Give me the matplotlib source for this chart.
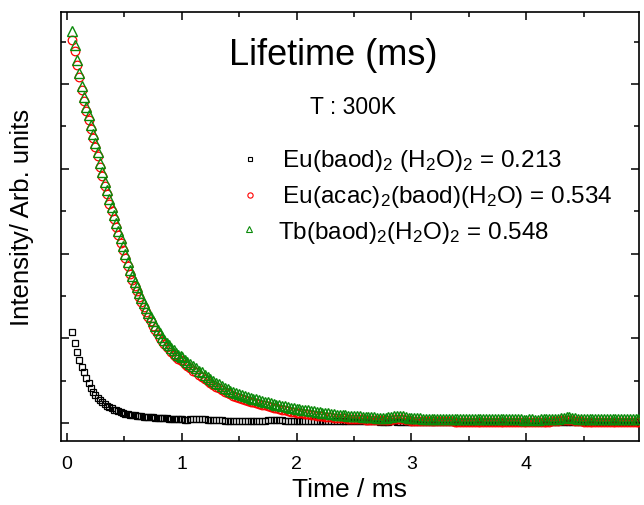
import matplotlib
matplotlib.use("Agg")
import matplotlib.pyplot as plt
from matplotlib.ticker import MultipleLocator

plt.rcParams['font.family'] = ['Liberation Sans', 'DejaVu Sans']
plt.rcParams['mathtext.default'] = 'regular'

# time axis (ms)
time_ms = [0.05, 0.07, 0.09, 0.11, 0.13, 0.15, 0.17, 0.19, 0.21, 0.23, 0.25, 0.27,
           0.29, 0.31, 0.33, 0.35, 0.37, 0.39, 0.41, 0.43, 0.45, 0.47, 0.49,
           0.51, 0.53, 0.55, 0.57, 0.59, 0.61, 0.63, 0.65, 0.67, 0.69, 0.71, 0.73,
           0.75, 0.77, 0.79, 0.81, 0.83, 0.85, 0.87, 0.89, 0.91, 0.93, 0.95, 0.97, 0.99,
           1.000, 1.025, 1.050, 1.075, 1.100, 1.125, 1.150, 1.175,
           1.200, 1.225, 1.250, 1.275, 1.300, 1.325, 1.350, 1.375,
           1.400, 1.425, 1.450, 1.475, 1.500, 1.525, 1.550, 1.575,
           1.600, 1.625, 1.650, 1.675, 1.700, 1.725, 1.750, 1.775,
           1.800, 1.825, 1.850, 1.875, 1.900, 1.925, 1.950, 1.975,
           2.000, 2.025, 2.050, 2.075, 2.100, 2.125, 2.150, 2.175,
           2.200, 2.225, 2.250, 2.275, 2.300, 2.325, 2.350, 2.375,
           2.400, 2.425, 2.450, 2.475, 2.500, 2.525, 2.550, 2.575,
           2.600, 2.625, 2.650, 2.675, 2.700, 2.725, 2.750, 2.775,
           2.800, 2.825, 2.850, 2.875, 2.900, 2.925, 2.950, 2.975,
           3.000, 3.025, 3.050, 3.075, 3.100, 3.125, 3.150, 3.175,
           3.200, 3.225, 3.250, 3.275, 3.300, 3.325, 3.350, 3.375,
           3.400, 3.425, 3.450, 3.475, 3.500, 3.525, 3.550, 3.575,
           3.600, 3.625, 3.650, 3.675, 3.700, 3.725, 3.750, 3.775,
           3.800, 3.825, 3.850, 3.875, 3.900, 3.925, 3.950, 3.975,
           4.000, 4.025, 4.050, 4.075, 4.100, 4.125, 4.150, 4.175,
           4.200, 4.225, 4.250, 4.275, 4.300, 4.325, 4.350, 4.375,
           4.400, 4.425, 4.450, 4.475, 4.500, 4.525, 4.550, 4.575,
           4.600, 4.625, 4.650, 4.675, 4.700, 4.725, 4.750, 4.775,
           4.800, 4.825, 4.850, 4.875, 4.900, 4.925, 4.950, 4.975]

eu_baod = [1.07, 0.95, 0.84, 0.74, 0.66, 0.60, 0.535, 0.47, 0.42, 0.37, 0.335, 0.30,
           0.27, 0.245, 0.225, 0.205, 0.19, 0.175, 0.16, 0.15, 0.14, 0.13, 0.12,
           0.113, 0.107, 0.100, 0.096, 0.092, 0.088, 0.084, 0.081, 0.078, 0.075, 0.072, 0.070,
           0.068, 0.066, 0.064, 0.062, 0.060, 0.058, 0.056, 0.054, 0.052, 0.050, 0.048, 0.046, 0.045,
           0.044, 0.043, 0.043, 0.045, 0.048, 0.050, 0.050, 0.048,
           0.046, 0.043, 0.040, 0.038, 0.036, 0.034, 0.033, 0.031,
           0.030, 0.029, 0.028, 0.027, 0.026, 0.026, 0.025, 0.025,
           0.025, 0.025, 0.025, 0.026, 0.028, 0.031, 0.035, 0.038,
           0.042, 0.043, 0.040, 0.035, 0.030, 0.027, 0.026, 0.025,
           0.025, 0.025, 0.024, 0.024, 0.024, 0.024, 0.024, 0.023,
           0.023, 0.023, 0.023, 0.023, 0.022, 0.022, 0.022, 0.022,
           0.022, 0.022, 0.021, 0.021, 0.021, 0.021, 0.021, 0.021,
           0.021, 0.022, 0.022, 0.021, 0.021, 0.020, 0.020, 0.020,
           0.020, 0.021, 0.021, 0.020, 0.020, 0.020, 0.020, 0.019,
           0.019, 0.019, 0.020, 0.020, 0.019, 0.019, 0.019, 0.019,
           0.019, 0.018, 0.018, 0.019, 0.019, 0.018, 0.018, 0.018,
           0.018, 0.019, 0.018, 0.018, 0.018, 0.018, 0.017, 0.018,
           0.017, 0.017, 0.018, 0.018, 0.017, 0.017, 0.017, 0.018,
           0.017, 0.017, 0.017, 0.017, 0.018, 0.017, 0.017, 0.017,
           0.017, 0.016, 0.016, 0.017, 0.017, 0.016, 0.016, 0.016,
           0.017, 0.016, 0.016, 0.016, 0.017, 0.016, 0.016, 0.016,
           0.016, 0.016, 0.016, 0.017, 0.016, 0.016, 0.016, 0.015,
           0.015, 0.016, 0.016, 0.015, 0.015, 0.016, 0.015, 0.015,
           0.015, 0.015, 0.016, 0.015, 0.015, 0.015, 0.015, 0.015]

eu_acac = [4.52, 4.39, 4.23, 4.08, 3.93, 3.80, 3.68, 3.58, 3.47, 3.36, 3.26, 3.15,
           3.02, 2.91, 2.80, 2.70, 2.59, 2.50, 2.41, 2.31, 2.22, 2.13, 2.04,
           1.95, 1.85, 1.76, 1.69, 1.62, 1.56, 1.49, 1.43, 1.37, 1.31, 1.25, 1.20,
           1.15, 1.10, 1.05, 1.01, 0.97, 0.93, 0.90, 0.87, 0.84, 0.81, 0.78, 0.76, 0.74,
           0.73, 0.70, 0.67, 0.65, 0.62, 0.60, 0.57, 0.55,
           0.52, 0.50, 0.47, 0.45, 0.43, 0.41, 0.39, 0.37,
           0.355, 0.34, 0.325, 0.31, 0.295, 0.285, 0.275, 0.265,
           0.255, 0.245, 0.235, 0.225, 0.215, 0.21, 0.205, 0.195,
           0.185, 0.175, 0.165, 0.16, 0.155, 0.145, 0.135, 0.13,
           0.125, 0.12, 0.115, 0.11, 0.105, 0.10, 0.095, 0.09,
           0.085, 0.08, 0.078, 0.075, 0.07, 0.066, 0.062, 0.06,
           0.058, 0.056, 0.054, 0.052, 0.05, 0.048, 0.046, 0.044,
           0.042, 0.04, 0.038, 0.036, 0.035, 0.034, 0.033, 0.034,
           0.036, 0.04, 0.045, 0.05, 0.05, 0.045, 0.038, 0.033,
           0.03, 0.029, 0.028, 0.027, 0.026, 0.025, 0.024, 0.023,
           0.022, 0.022, 0.022, 0.021, 0.021, 0.021, 0.021, 0.02,
           0.02, 0.02, 0.02, 0.02, 0.019, 0.019, 0.019, 0.019,
           0.019, 0.019, 0.019, 0.018, 0.018, 0.018, 0.018, 0.018,
           0.018, 0.018, 0.017, 0.018, 0.018, 0.017, 0.017, 0.017,
           0.017, 0.017, 0.017, 0.017, 0.017, 0.017, 0.018, 0.018,
           0.019, 0.021, 0.024, 0.028, 0.032, 0.035, 0.037, 0.036,
           0.033, 0.029, 0.025, 0.022, 0.02, 0.019, 0.018, 0.018,
           0.017, 0.017, 0.017, 0.017, 0.016, 0.016, 0.017, 0.017,
           0.016, 0.016, 0.017, 0.017, 0.017, 0.017, 0.017, 0.017]

tb_baod = [4.62, 4.46, 4.28, 4.13, 3.98, 3.85, 3.73, 3.63, 3.52, 3.41, 3.31, 3.20,
           3.07, 2.96, 2.85, 2.75, 2.64, 2.55, 2.46, 2.36, 2.27, 2.18, 2.09,
           2.00, 1.90, 1.81, 1.74, 1.67, 1.61, 1.54, 1.48, 1.42, 1.36, 1.30, 1.25,
           1.20, 1.15, 1.10, 1.06, 1.02, 0.98, 0.95, 0.92, 0.89, 0.86, 0.83, 0.81, 0.79,
           0.78, 0.75, 0.72, 0.70, 0.67, 0.65, 0.62, 0.60,
           0.57, 0.55, 0.52, 0.50, 0.48, 0.46, 0.44, 0.42,
           0.40, 0.385, 0.37, 0.355, 0.34, 0.33, 0.32, 0.31,
           0.30, 0.29, 0.28, 0.27, 0.26, 0.255, 0.25, 0.24,
           0.23, 0.22, 0.21, 0.205, 0.20, 0.19, 0.18, 0.175,
           0.17, 0.165, 0.16, 0.155, 0.15, 0.145, 0.14, 0.135,
           0.13, 0.125, 0.12, 0.115, 0.11, 0.105, 0.10, 0.098,
           0.095, 0.092, 0.09, 0.088, 0.085, 0.083, 0.08, 0.078,
           0.075, 0.073, 0.07, 0.068, 0.067, 0.066, 0.065, 0.066,
           0.07, 0.075, 0.08, 0.085, 0.085, 0.08, 0.07, 0.065,
           0.06, 0.059, 0.058, 0.057, 0.055, 0.054, 0.053, 0.052,
           0.05, 0.05, 0.05, 0.049, 0.048, 0.048, 0.048, 0.047,
           0.047, 0.047, 0.047, 0.046, 0.046, 0.046, 0.046, 0.045,
           0.045, 0.046, 0.046, 0.045, 0.045, 0.044, 0.044, 0.045,
           0.045, 0.044, 0.044, 0.045, 0.045, 0.044, 0.044, 0.043,
           0.043, 0.044, 0.044, 0.043, 0.043, 0.044, 0.044, 0.045,
           0.045, 0.048, 0.05, 0.055, 0.06, 0.065, 0.07, 0.07,
           0.065, 0.06, 0.055, 0.052, 0.05, 0.049, 0.048, 0.048,
           0.047, 0.047, 0.046, 0.046, 0.045, 0.045, 0.046, 0.046,
           0.045, 0.045, 0.046, 0.046, 0.046, 0.047, 0.047, 0.047]

legend_labels = [" Eu(baod)$_2$ (H$_2$O)$_2$ = 0.213",
                 " Eu(acac)$_2$(baod)(H$_2$O) = 0.534",
                 "Tb(baod)$_2$(H$_2$O)$_2$ = 0.548"]
x_ticks = [0, 1, 2, 3, 4]

RED = '#ff0000'
GREEN = '#0a8a0a'

fig = plt.figure(figsize=(6.44, 5.05), dpi=100)
ax = fig.add_axes([61/644, 1 - 441/505, 578/644, 429/505])

ax.plot(time_ms, eu_baod, linestyle='none', marker='s', markersize=5.0,
        markerfacecolor='none', markeredgecolor='black', markeredgewidth=0.9, zorder=3)
ax.plot(time_ms, eu_acac, linestyle='none', marker='o', markersize=6.2,
        markerfacecolor='none', markeredgecolor=RED, markeredgewidth=0.9, zorder=4)
ax.plot(time_ms, tb_baod, linestyle='none', marker='^', markersize=7.0,
        markerfacecolor='none', markeredgecolor=GREEN, markeredgewidth=1.0, zorder=5)

ax.set_xlim(-0.05, 4.98)
ax.set_ylim(-0.21, 4.85)
ax.set_xticks(x_ticks)
ax.xaxis.set_minor_locator(MultipleLocator(0.5))
ax.yaxis.set_major_locator(MultipleLocator(1))
ax.yaxis.set_minor_locator(MultipleLocator(0.5))
ax.tick_params(which='both', direction='in', top=True, right=True, width=1.1)
ax.tick_params(which='major', length=6)
ax.tick_params(which='minor', length=3.5)
ax.tick_params(axis='x', labelsize=14, pad=11)
ax.tick_params(axis='y', labelleft=False)
for sp in ax.spines.values():
    sp.set_linewidth(1.2)

ax.set_xlabel("Time / ms", fontsize=19)
ax.xaxis.set_label_coords(0.5, -0.114)
ax.xaxis.label.set_va('center')
ax.set_ylabel("Intensity/ Arb. units", fontsize=18.5, va='center', ha='center')
ax.yaxis.set_label_coords(-0.068, 0.52)

ax.text(0.471, 0.876, "Lifetime (ms)", transform=ax.transAxes, fontsize=26,
        ha='center', va='baseline')
ax.text(0.505, 0.762, "T : 300K", transform=ax.transAxes, fontsize=16.5,
        ha='center', va='baseline')

# legend (manual)
leg_marker_x = [0.327, 0.327, 0.325]
leg_marker_y = [0.657, 0.573, 0.494]
leg_text_x = [0.372, 0.372, 0.375]
leg_text_y = [0.639, 0.5555, 0.471]
styles = [dict(marker='s', markeredgecolor='black', markersize=3.4),
          dict(marker='o', markeredgecolor=RED, markersize=3.8),
          dict(marker='^', markeredgecolor=GREEN, markersize=4.0)]
for i in range(3):
    ax.plot([leg_marker_x[i]], [leg_marker_y[i]], transform=ax.transAxes,
            linestyle='none', markerfacecolor='none', markeredgewidth=0.8, **styles[i])
    ax.text(leg_text_x[i], leg_text_y[i], legend_labels[i], transform=ax.transAxes,
            fontsize=17.5, ha='left', va='baseline')

fig.savefig("out.png", dpi=100)
